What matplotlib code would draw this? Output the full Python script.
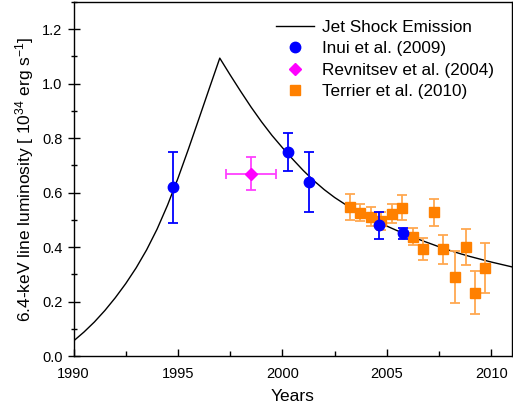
import numpy as np
import matplotlib
matplotlib.use("Agg")
import matplotlib.pyplot as plt
from matplotlib.ticker import MultipleLocator

plt.rcParams['font.family'] = ['Liberation Sans', 'DejaVu Sans']
plt.rcParams['mathtext.fontset'] = 'custom'
plt.rcParams['mathtext.rm'] = 'Liberation Sans'
plt.rcParams['mathtext.it'] = 'Liberation Sans:italic'

# jet shock emission model curve
model_year = [1990.0, 1990.5, 1991.0, 1991.5, 1992.0, 1992.5, 1993.0, 1993.5,
              1994.0, 1994.5, 1995.0, 1995.5, 1996.0, 1996.5, 1997.0,
              1997.5, 1998.0, 1998.5, 1999.0, 1999.5, 2000.0, 2000.5,
              2001.0, 2001.5, 2002.0, 2002.5, 2003.0, 2003.5, 2004.0,
              2004.5, 2005.0, 2005.5, 2006.0, 2006.5, 2007.0, 2007.5,
              2008.0, 2008.5, 2009.0, 2009.5, 2010.0, 2010.5, 2011.0]
model_lum = [0.055, 0.088, 0.125, 0.167, 0.214, 0.266, 0.324, 0.390,
             0.466, 0.554, 0.653, 0.760, 0.871, 0.983, 1.094,
             1.032, 0.972, 0.914, 0.860, 0.810, 0.765, 0.722,
             0.681, 0.644, 0.611, 0.582, 0.557, 0.535, 0.514,
             0.495, 0.477, 0.460, 0.444, 0.429, 0.415, 0.401,
             0.388, 0.376, 0.365, 0.355, 0.345, 0.336, 0.327]

# Inui et al. (2009)
inui_year = [1994.75, 2000.25, 2001.26, 2004.64, 2005.79]
inui_lum = [0.62, 0.75, 0.64, 0.48, 0.45]
inui_err = [0.13, 0.07, 0.11, 0.05, 0.02]

# Revnitsev et al. (2004)
rev_year = [1998.5]
rev_lum = [0.67]
rev_xerr = [1.2]
rev_yerr = [0.06]

# Terrier et al. (2010)
ter_year = [2003.25, 2003.73, 2004.24, 2004.72, 2005.25, 2005.73, 2006.24,
            2006.75, 2007.23, 2007.70, 2008.25, 2008.79, 2009.23, 2009.71]
ter_lum = [0.548, 0.527, 0.512, 0.496, 0.522, 0.545, 0.438,
           0.394, 0.528, 0.392, 0.289, 0.400, 0.233, 0.324]
ter_err = [0.048, 0.030, 0.035, 0.033, 0.035, 0.045, 0.031,
           0.041, 0.050, 0.054, 0.095, 0.066, 0.080, 0.092]

fig = plt.figure(figsize=(5.13, 4.07), dpi=100)
ax = fig.add_axes([0.1433, 0.1253, 0.8553, 0.8697])

line, = ax.plot(model_year, model_lum, color='black', lw=1.0)

ter = ax.errorbar(ter_year, ter_lum, yerr=ter_err, fmt='s', color='#ff8000',
                  ecolor='#ffa850', ms=6.5, capsize=3.5, elinewidth=1.3,
                  capthick=1.3, zorder=3)
inui = ax.errorbar(inui_year, inui_lum, yerr=inui_err, fmt='o', color='#0000ff',
                   ecolor='#0000ff', ms=7.5, capsize=3.5, elinewidth=1.3,
                   capthick=1.3, zorder=4)
rev = ax.errorbar(rev_year, rev_lum, xerr=rev_xerr, yerr=rev_yerr, fmt='D',
                  color='#ff00ff', ecolor='#ff40ff', ms=6.5, capsize=3.5,
                  elinewidth=1.3, capthick=1.3, zorder=4)

ax.set_xlim(1990, 2011)
ax.set_ylim(0, 1.3)
ax.set_xticks([1990, 1995, 2000, 2005, 2010])
ax.set_yticks([0.0, 0.2, 0.4, 0.6, 0.8, 1.0, 1.2])
ax.xaxis.set_minor_locator(MultipleLocator(2.5))
ax.yaxis.set_minor_locator(MultipleLocator(0.1))
ax.tick_params(axis='x', which='major', direction='in', length=5, width=1,
               labelsize=10.5, pad=8)
ax.tick_params(axis='x', which='minor', direction='in', length=3.5, width=1)
ax.tick_params(axis='y', which='major', direction='inout', length=9, width=1,
               labelsize=10.5)
ax.tick_params(axis='y', which='minor', direction='inout', length=5, width=1)
for s in ax.spines.values():
    s.set_linewidth(1.0)

ax.set_xlabel('Years', fontsize=12.5, labelpad=6)
ax.set_ylabel(r'6.4-keV line luminosity [ 10$^{34}$ erg s$^{-1}$]', fontsize=12.5)

ax.legend([line, inui[0], rev[0], ter[0]],
          ['Jet Shock Emission', 'Inui et al. (2009)', 'Revnitsev et al. (2004)',
           'Terrier et al. (2010)'],
          loc='upper right', frameon=False, fontsize=12.3, handlelength=2.2,
          handletextpad=0.5, labelspacing=0.38, borderaxespad=0.65)

fig.savefig('out.png', dpi=100)
